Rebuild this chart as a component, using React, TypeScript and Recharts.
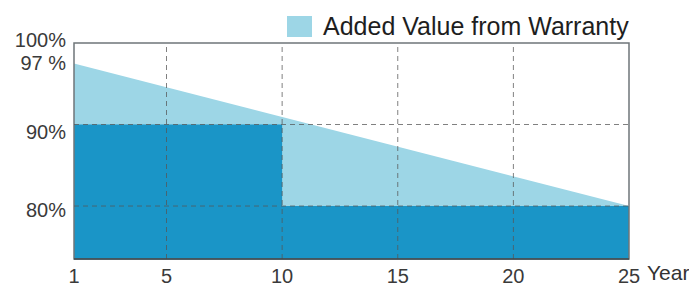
import React from 'react';
import {
  ComposedChart,
  Area,
  XAxis,
  YAxis,
  ReferenceLine,
  ReferenceArea,
  Legend,
} from 'recharts';

// ---- data ----
const years = [1, 10, 25];
const warrantyValues: (number | null)[] = [97.5, null, 80];
const standardValues = [90, 80, 80];
const xTicks = [1, 5, 10, 15, 20, 25];
const yTicks = [80, 90, 97, 100];
const yTickLabels = ['80%', '90%', '97 %', '100%'];
const gridYears = [5, 10, 15, 20];
const gridLevels = [80, 90];
const legendLabel = 'Added Value from Warranty';
const xAxisTitle = 'Year';

const data = years.map((y, i) => ({
  year: y,
  warranty: warrantyValues[i],
  standard: standardValues[i],
}));

const LIGHT = '#9dd6e6';
const DARK = '#1a95c7';
const FONT = '"Liberation Sans", Arial, sans-serif';

const yNudge: Record<number, number> = { 100: -3, 97: -4, 90: 7, 80: 4 };

const YTick = (props: any) => {
  const { x, y, payload } = props;
  const idx = yTicks.indexOf(payload.value);
  const label = idx >= 0 ? yTickLabels[idx] : String(payload.value);
  return (
    <text
      x={x}
      y={y + (yNudge[payload.value] || 0)}
      textAnchor="end"
      dominantBaseline="central"
      fontSize={20}
      fontFamily={FONT}
      fill="#3a3a3a"
    >
      {label}
    </text>
  );
};

const XTick = (props: any) => {
  const { x, y, payload } = props;
  return (
    <text
      x={x}
      y={y + 9}
      textAnchor="middle"
      dominantBaseline="central"
      fontSize={20}
      fontFamily={FONT}
      fill="#3a3a3a"
    >
      {payload.value}
    </text>
  );
};

const LegendContent = () => (
  <div style={{ display: 'flex', alignItems: 'center', fontFamily: FONT }}>
    <span
      style={{
        display: 'inline-block',
        width: 25,
        height: 21,
        background: LIGHT,
        marginRight: 11,
      }}
    />
    <span style={{ fontSize: 25, color: '#1e1e1e', lineHeight: '28px' }}>{legendLabel}</span>
  </div>
);

export default function App() {
  return (
    <ComposedChart
      width={689}
      height={279}
      data={data}
      margin={{ top: 7, right: 68, bottom: 0, left: 6 }}
      style={{ fontFamily: FONT }}
    >
      <XAxis
        dataKey="year"
        type="number"
        domain={[1, 25]}
        ticks={xTicks}
        interval={0}
        height={28}
        axisLine={{ stroke: '#3b4a50', strokeWidth: 1.5 }}
        tickLine={false}
        tick={<XTick />}
        label={{
          value: xAxisTitle,
          position: 'right',
          offset: 18,
          fontSize: 21,
          fill: '#333',
          fontFamily: FONT,
        }}
      />
      <YAxis
        type="number"
        domain={[73.5, 100]}
        ticks={yTicks}
        interval={0}
        width={60}
        axisLine={false}
        tickLine={false}
        tick={<YTick />}
        allowDataOverflow
      />
      <Legend
        verticalAlign="top"
        align="left"
        content={<LegendContent />}
        wrapperStyle={{ top: 4, left: 279, width: 'auto' }}
      />
      <Area
        type="linear"
        dataKey="warranty"
        connectNulls
        fill={LIGHT}
        fillOpacity={1}
        stroke="none"
        isAnimationActive={false}
        legendType="none"
      />
      <Area
        type="stepAfter"
        dataKey="standard"
        fill={DARK}
        fillOpacity={1}
        stroke="none"
        isAnimationActive={false}
        legendType="none"
      />
      {gridYears.map((g) => (
        <ReferenceLine
          key={'x' + g}
          x={g}
          stroke="#555"
          strokeOpacity={0.75}
          strokeDasharray="5 4"
          strokeWidth={1}
        />
      ))}
      {gridLevels.map((g) => (
        <ReferenceLine
          key={'y' + g}
          y={g}
          stroke="#555"
          strokeOpacity={0.75}
          strokeDasharray="5 4"
          strokeWidth={1}
        />
      ))}
      <ReferenceArea
        x1={1}
        x2={25}
        y1={73.5}
        y2={100}
        fill="none"
        stroke="#6f7679"
        strokeWidth={1.5}
        ifOverflow="visible"
      />
    </ComposedChart>
  );
}
